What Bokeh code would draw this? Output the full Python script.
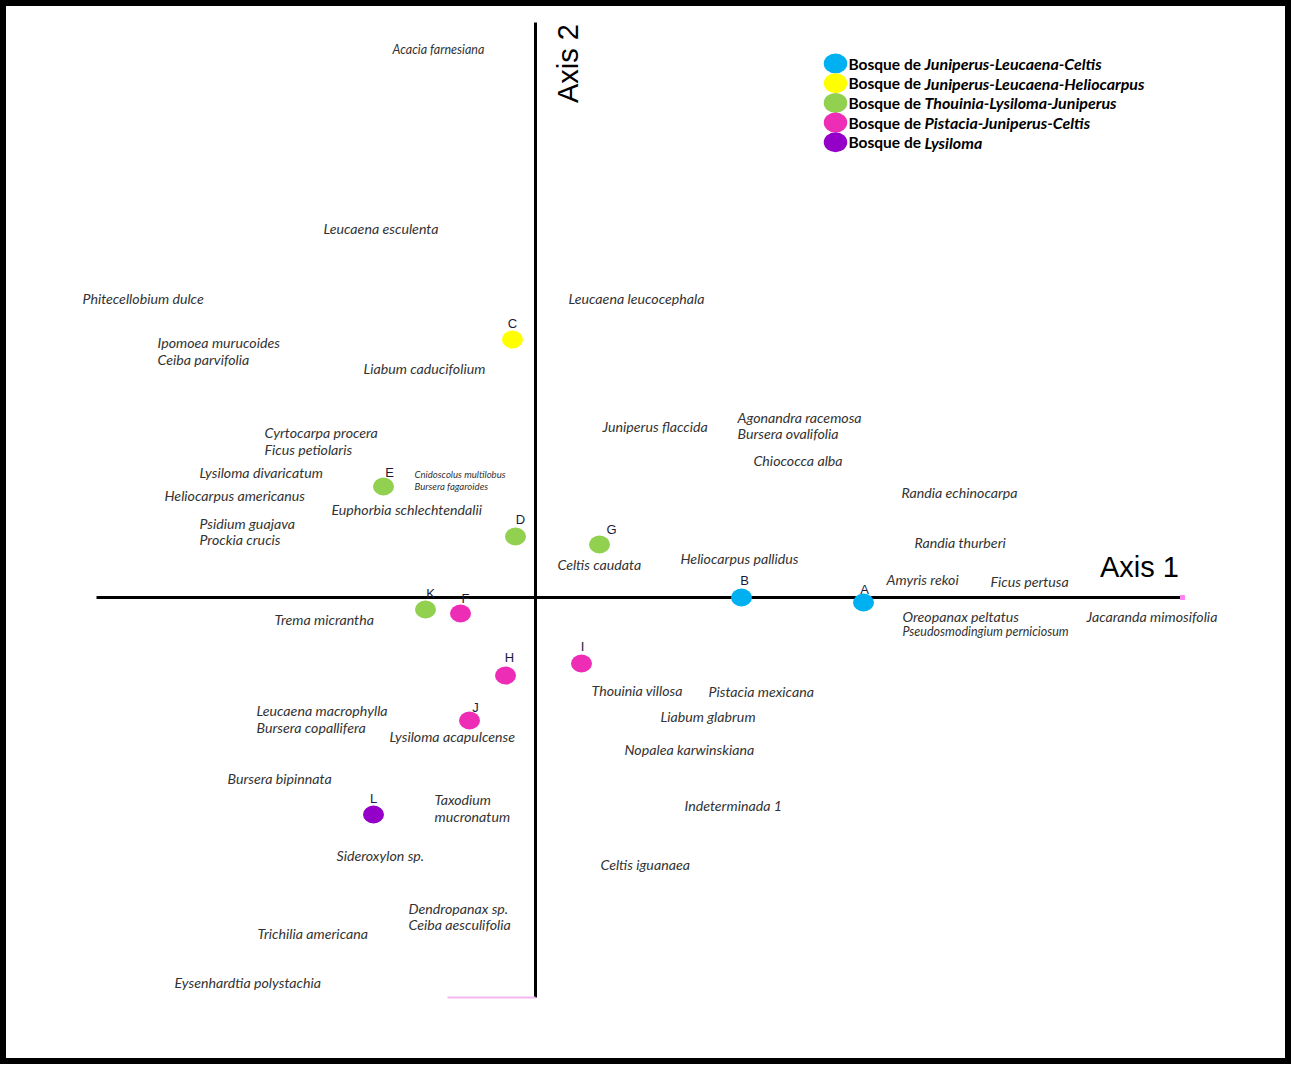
import math
from bokeh.plotting import figure
from bokeh.models import ColumnDataSource, Range1d
from bokeh.core.properties import value
from bokeh.embed import file_html
from bokeh.resources import INLINE

# ---- data: site scores (Axis 1, Axis 2) ----
sites = ["A", "B", "C", "D", "E", "F", "G", "H", "I", "J", "K", "L"]
site_ax1 = [3.28, 2.06, -0.23, -0.20, -1.52, -0.75, 0.64, -0.30, 0.46, -0.66, -1.10, -1.62]
site_ax2 = [-0.05, 0.00, 2.58, 0.61, 1.11, -0.16, 0.53, -0.78, -0.66, -1.23, -0.12, -2.17]
site_group = [0, 0, 1, 2, 2, 3, 2, 3, 3, 3, 2, 4]

# ---- data: vegetation groups (legend) ----
group_prefix = ["Bosque de", "Bosque de", "Bosque de", "Bosque de", "Bosque de"]
group_genus = ["Juniperus-Leucaena-Celtis", "Juniperus-Leucaena-Heliocarpus",
               "Thouinia-Lysiloma-Juniperus", "Pistacia-Juniperus-Celtis", "Lysiloma"]
group_colors = ["#00B0F0", "#FFFF00", "#92D050", "#EE2DB7", "#9400C8"]

# ---- data: species scores ----
species = ["Acacia farnesiana", "Leucaena esculenta", "Phitecellobium dulce", "Leucaena leucocephala",
           "Ipomoea murucoides", "Ceiba parvifolia", "Liabum caducifolium", "Cyrtocarpa procera",
           "Ficus petiolaris", "Juniperus flaccida", "Agonandra racemosa", "Bursera ovalifolia",
           "Chiococca alba", "Lysiloma divaricatum", "Heliocarpus americanus", "Cnidoscolus   multilobus",
           "Bursera  fagaroides", "Euphorbia schlechtendalii", "Randia echinocarpa", "Psidium guajava",
           "Prockia crucis", "Randia thurberi", "Celtis caudata", "Heliocarpus pallidus",
           "Amyris rekoi", "Ficus pertusa", "Trema micrantha", "Oreopanax peltatus",
           "Pseudosmodingium perniciosum", "Jacaranda mimosifolia", "Thouinia villosa", "Pistacia mexicana",
           "Liabum glabrum", "Leucaena macrophylla", "Bursera copallifera", "Lysiloma acapulcense",
           "Nopalea karwinskiana", "Bursera bipinnata", "Taxodium", "mucronatum",
           "Indeterminada 1", "Sideroxylon sp.", "Celtis iguanaea", "Dendropanax sp.",
           "Ceiba aesculifolia", "Trichilia  americana", "Eysenhardtia polystachia"]
sp_ax1 = [-1.43, -2.12, -4.53, 0.33, -3.78, -3.78, -1.72, -2.71, -2.71, 0.67, 2.02, 2.02,
          2.18, -3.36, -3.71, -1.21, -1.21, -2.04, 3.66, -3.36, -3.36, 3.79, 0.22, 1.45,
          3.51, 4.55, -2.61, 3.67, 3.67, 5.51, 0.56, 1.73, 1.25, -2.79, -2.79, -1.46,
          0.89, -3.08, -1.01, -1.01, 1.49, -1.99, 0.65, -1.27, -1.27, -2.78, -3.61]
sp_ax2 = [5.48, 3.69, 2.99, 2.99, 2.55, 2.38, 2.29, 1.65, 1.48, 1.71, 1.80, 1.64,
          1.37, 1.25, 1.02, 1.23, 1.11, 0.88, 1.05, 0.74, 0.58, 0.55, 0.33, 0.39,
          0.18, 0.16, -0.22, -0.19, -0.34, -0.19, -0.93, -0.94, -1.19, -1.13, -1.30, -1.39,
          -1.52, -1.81, -2.02, -2.19, -2.08, -2.58, -2.67, -3.11, -3.27, -3.36, -3.85]

# ---- styles ----
sp_size = ["14.2px"] * len(species)
for i, s in enumerate(species):
    if s.startswith("Cnidoscolus") or s.startswith("Bursera  fag"):
        sp_size[i] = "9.6px"
    if s.startswith("Pseudosmodingium") or s.startswith("Acacia"):
        sp_size[i] = "12.5px"
label_dx = [1, 3, 0, 5, 6, 5, 12, 4, 1, 6, 5, 0]
label_dy = [-13, -17, -16, -17, -14, -15, -15, -18, -17, -13, -16, -16]

W, H = 1291, 1064
SCALE = 100.0  # pixels per unit on both axes
x0, y0 = 535, 597  # origin position in figure pixels
p = figure(width=W, height=H, output_backend="svg", toolbar_location=None,
           x_range=Range1d(-x0 / SCALE, (W - x0) / SCALE),
           y_range=Range1d(-(H - y0) / SCALE, y0 / SCALE),
           min_border=0, background_fill_color="white", border_fill_color="white")
p.axis.visible = False
p.grid.visible = False
p.outline_line_color = "black"
p.outline_line_width = 11

# axis lines
AX1_EXT = (-4.39, 6.47)
AX2_EXT = (-4.00, 5.75)
p.segment(x0=[AX1_EXT[0]], y0=[0], x1=[AX1_EXT[1]], y1=[0], line_color="black", line_width=3)
p.segment(x0=[0], y0=[AX2_EXT[0]], x1=[0], y1=[AX2_EXT[1]], line_color="black", line_width=3)
p.segment(x0=[-0.88], y0=[AX2_EXT[0]], x1=[0], y1=[AX2_EXT[0]], line_color="#F6B8F0", line_width=2)
p.scatter(x=[AX1_EXT[1]], y=[0], marker="square", size=4, color="#FF80F0")

p.text(x=[0.32], y=[5.34], text=["Axis 2"], angle=math.pi / 2, text_align="center",
       text_baseline="middle", text_font=value("Liberation Sans"), text_font_size="29px", text_color="black")
p.text(x=[6.04], y=[0.31], text=["Axis 1"], text_align="center",
       text_baseline="middle", text_font=value("Liberation Sans"), text_font_size="29px", text_color="black")

# species
ssrc = ColumnDataSource(dict(x=sp_ax1, y=sp_ax2, t=species, fs=sp_size))
p.text(x="x", y="y", text="t", source=ssrc, text_align="left", text_baseline="middle",
       text_font=value("Lato"), text_font_style="italic", text_font_size="fs", text_color="#333333")

# sites
src = ColumnDataSource(dict(x=site_ax1, y=site_ax2, t=sites, c=[group_colors[g] for g in site_group],
                            dx=label_dx, dy=label_dy))
p.ellipse(x="x", y="y", width=0.21, height=0.18, fill_color="c", line_color=None, source=src)
p.text(x="x", y="y", text="t", source=src, x_offset="dx", y_offset="dy", text_align="center",
       text_baseline="middle", text_font=value("Liberation Sans"), text_font_size="13px", text_color="#1a1a3a")

# legend
LEG_X, LEG_Y, LEG_DY = 3.00, 5.34, 0.197
ly = [LEG_Y - i * LEG_DY for i in range(len(group_genus))]
lsrc = ColumnDataSource(dict(x=[LEG_X] * 5, y=ly, c=group_colors, pre=group_prefix, gen=group_genus))
p.ellipse(x="x", y="y", width=0.235, height=0.20, fill_color="c", line_color=None, source=lsrc)
p.text(x="x", y="y", text="pre", source=lsrc, x_offset=13, text_align="left", text_baseline="middle",
       text_font=value("Lato"), text_font_style="bold", text_font_size="15.5px", text_color="black")
p.text(x="x", y="y", text="gen", source=lsrc, x_offset=89, text_align="left", text_baseline="middle",
       text_font=value("Lato"), text_font_style="bold italic", text_font_size="16px", text_color="black")

open("out.html", "w").write(file_html(p, INLINE))
